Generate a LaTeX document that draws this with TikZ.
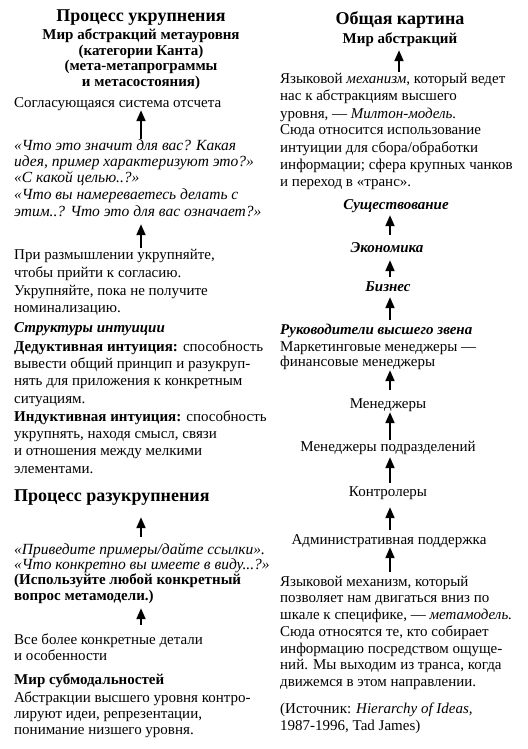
\documentclass[tikz,border=0pt]{standalone}
\usepackage{fontspec}
\setmainfont{Liberation Serif}
\usetikzlibrary{arrows.meta}
\tikzset{
  ln/.style={anchor=base west, inner sep=0pt, text height=11pt, text depth=3pt, font=\fontsize{15}{17}\selectfont},
  lc/.style={anchor=base, inner sep=0pt, text height=11pt, text depth=3pt, font=\fontsize{15}{17}\selectfont},
  ttl/.style={font=\fontsize{18}{20}\selectfont\bfseries},
  bf/.style={font=\fontsize{15}{17}\selectfont\bfseries},
  bi/.style={font=\fontsize{15}{17}\selectfont\bfseries\itshape},
  it/.style={font=\fontsize{15.5}{17}\selectfont\itshape},
  arr/.style={line width=2pt, -{Triangle[length=11pt,width=9pt]}},
}
\begin{document}
\begin{tikzpicture}[x=1pt,y=-1pt]
\useasboundingbox (0,0) rectangle (527,749);
% ---------------- left column
\coordinate (aL) at (141,0);
\node[lc,ttl] (t1) at (141,22) {Процесс укрупнения};
\node[lc,bf] (t2) at (141,40) {Мир абстракций метауровня};
\node[lc,bf] (t3) at (141,56) {(категории Канта)};
\node[lc,bf] (t4) at (141,71) {(мета-метапрограммы};
\node[lc,bf] (t5) at (141,87) {и метасостояния)};
\node[ln] (sys) at (14,107) {Согласующаяся система отсчета};
\node[ln,it] (q1) at (14,150) {«Что это значит для вас? Какая};
\node[ln,it] (q2) at (14,166) {идея, пример характеризуют это?»};
\node[ln,it] (q3) at (14,182) {«С какой целью..?»};
\node[ln,it] (q4) at (14,199) {«Что вы намереваетесь делать с};
\node[ln,it] (q5) at (14,216) {этим..? Что это для вас означает?»};
\node[ln] (p1) at (14,259) {При размышлении укрупняйте,};
\node[ln] (p2) at (14,277) {чтобы прийти к согласию.};
\node[ln] (p3) at (14,295) {Укрупняйте, пока не получите};
\node[ln] (p4) at (14,312) {номинализацию.};
\node[ln,bi] (s0) at (14,332) {Структуры интуиции};
\node[ln] (s1) at (14,351) {\textbf{Дедуктивная интуиция:} способность};
\node[ln] (s2) at (14,368) {вывести общий принцип и разукруп-};
\node[ln] (s3) at (14,385) {нять для приложения к конкретным};
\node[ln] (s4) at (14,403) {ситуациям.};
\node[ln] (s5) at (14,421) {\textbf{Индуктивная интуиция:} способность};
\node[ln] (s6) at (14,438) {укрупнять, находя смысл, связи};
\node[ln] (s7) at (14,455) {и отношения между мелкими};
\node[ln] (s8) at (14,473) {элементами.};
\node[ln,ttl] (h2) at (14,501) {Процесс разукрупнения};
\node[ln,it] (d1) at (14,554) {«Приведите примеры/дайте ссылки».};
\node[ln,it] (d2) at (14,569) {«Что конкретно вы имеете в виду...?»};
\node[ln,bf] (d3) at (14,584) {(Используйте любой конкретный};
\node[ln,bf] (d4) at (14,600) {вопрос метамодели.)};
\node[ln] (v1) at (14,644) {Все более конкретные детали};
\node[ln] (v2) at (14,660) {и особенности};
\node[ln,bf] (w0) at (14,684) {Мир субмодальностей};
\node[ln] (w1) at (14,702) {Абстракции высшего уровня контро-};
\node[ln] (w2) at (14,718) {лируют идеи, репрезентации,};
\node[ln] (w3) at (14,734) {понимание низшего уровня.};
\draw[arr] (q1.north -| aL) -- (sys.south -| aL);
\draw[arr, shorten >=5pt] (p1.north -| aL) -- (q5.south -| aL);
\draw[arr, shorten <=6pt, shorten >=13pt] (d1.north -| aL) -- (h2.south -| aL);
\draw[arr, shorten <=8pt, shorten >=5pt] (v1.north -| aL) -- (d4.south -| aL);
% ---------------- right column
\coordinate (aR) at (399,0);
\coordinate (aC) at (390,0);
\node[lc,ttl] (r1) at (400,25) {Общая картина};
\node[lc,bf] (r2) at (400,44) {Мир абстракций};
\node[ln] (y1) at (280,84) {Языковой \textit{механизм}, который ведет};
\node[ln] (y2) at (280,101) {нас к абстракциям высшего};
\node[ln] (y3) at (280,118) {уровня, — \textit{Милтон-модель.}};
\node[ln] (y4) at (280,135) {Сюда относится использование};
\node[ln] (y5) at (280,152) {интуиции для сбора/обработки};
\node[ln] (y6) at (280,169) {информации; сфера крупных чанков};
\node[ln] (y7) at (280,186) {и переход в «транс».};
\node[lc,bi] (e1) at (396,209) {Существование};
\node[lc,bi] (e2) at (387,252) {Экономика};
\node[lc,bi] (e3) at (388,291) {Бизнес};
\node[ln,bi] (e4) at (280,334) {Руководители высшего звена};
\node[ln] (e5) at (280,351) {Маркетинговые менеджеры —};
\node[ln] (e6) at (280,366) {финансовые менеджеры};
\node[lc] (e7) at (388,408) {Менеджеры};
\node[lc] (e8) at (388,451) {Менеджеры подразделений};
\node[lc] (e9) at (388,496) {Контролеры};
\node[lc] (e10) at (389,544) {Административная поддержка};
\node[ln] (z1) at (280,586) {Языковой механизм, который};
\node[ln] (z2) at (280,602) {позволяет нам двигаться вниз по};
\node[ln] (z3) at (280,619) {шкале к специфике, — \textit{метамодель.}};
\node[ln] (z4) at (280,636) {Сюда относятся те, кто собирает};
\node[ln] (z5) at (280,653) {информацию посредством ощуще-};
\node[ln] (z6) at (280,669) {ний. Мы выходим из транса, когда};
\node[ln] (z7) at (280,686) {движемся в этом направлении.};
\node[ln] (z8) at (280,713) {(Источник: \textit{Hierarchy of Ideas,}};
\node[ln] (z9) at (280,730) {1987-1996, Tad James)};
\draw[arr, shorten <=1pt, shorten >=3pt] (y1.north -| aR) -- (r2.south -| aR);
\draw[arr, shorten <=6pt, shorten >=3pt] (e2.north -| aC) -- (e1.south -| aC);
\draw[arr, shorten <=3pt, shorten >=5pt] (e3.north -| aC) -- (e2.south -| aC);
\draw[arr, shorten <=3pt, shorten >=3pt] (e4.north -| aC) -- (e3.south -| aC);
\draw[arr, shorten <=7pt, shorten >=1pt] (e7.north -| aC) -- (e6.south -| aC);
\draw[arr, shorten >=1pt] (e8.north -| aC) -- (e7.south -| aC);
\draw[arr, shorten <=2pt, shorten >=3pt] (e9.north -| aC) -- (e8.south -| aC);
\draw[arr, shorten <=3pt, shorten >=8pt] (e10.north -| aC) -- (e9.south -| aC);
\draw[arr, shorten <=3pt] (z1.north -| aC) -- (e10.south -| aC);
\end{tikzpicture}
\end{document}
